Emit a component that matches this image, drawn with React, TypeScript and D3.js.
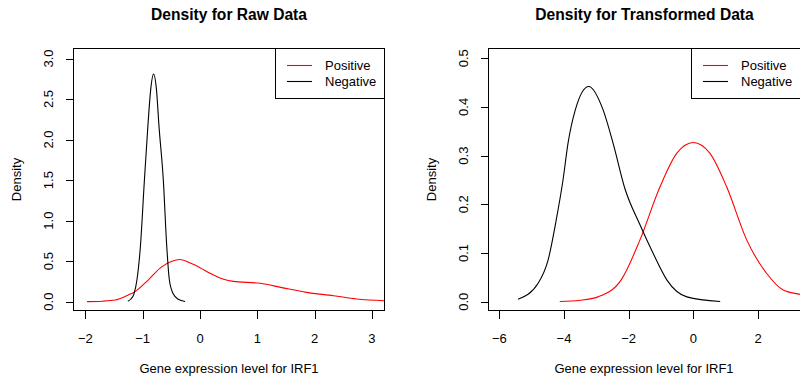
import { useEffect, useRef } from "react"
import * as d3 from "d3"

// density curves
const rawPosX = [-1.97, -1.7, -1.48, -1.25, -1.15, -0.9, -0.67, -0.49, -0.35, -0.15, 0.0, 0.175, 0.41, 0.58, 1.05, 1.45, 1.86, 2.33, 2.73, 3.3]
const rawPosY = [0.001, 0.006, 0.02, 0.083, 0.116, 0.27, 0.43, 0.5, 0.52, 0.47, 0.42, 0.35, 0.277, 0.25, 0.227, 0.17, 0.115, 0.074, 0.033, 0.01]
const rawNegX = [-1.26, -1.21, -1.15, -1.1, -1.04, -0.97, -0.91, -0.86, -0.81, -0.76, -0.715, -0.64, -0.58, -0.535, -0.47, -0.38, -0.26]
const rawNegY = [0.005, 0.03, 0.1, 0.27, 0.68, 1.5, 2.16, 2.62, 2.81, 2.62, 2.16, 1.5, 0.68, 0.27, 0.1, 0.03, 0.003]

const trPosX = [-4.13, -3.5, -2.95, -2.23, -1.65, -1.03, -0.51, 0, 0.51, 1.03, 1.65, 2.27, 2.78, 3.3, 3.9]
const trPosY = [0.0005, 0.003, 0.01, 0.045, 0.127, 0.236, 0.305, 0.327, 0.305, 0.236, 0.127, 0.058, 0.024, 0.015, 0.006]
const trNegX = [-5.42, -4.8, -4.49, -4.24, -4.03, -3.876, -3.65, -3.235, -2.79, -2.48, -2.12, -1.65, -1.24, -0.82, -0.2, 0.83]
const trNegY = [0.005, 0.038, 0.086, 0.168, 0.25, 0.325, 0.394, 0.442, 0.394, 0.325, 0.233, 0.158, 0.099, 0.045, 0.01, 0.0005]

const rawXTicks = [-2, -1, 0, 1, 2, 3]
const rawYTicks = [0, 0.5, 1, 1.5, 2, 2.5, 3]
const trXTicks = [-6, -4, -2, 0, 2]
const trYTicks = [0, 0.1, 0.2, 0.3, 0.4, 0.5]

const legendLabels = ["Positive", "Negative"]
const colours = ["#ff0000", "#000000"]
const FONT = "'Liberation Sans', Arial, Helvetica, sans-serif"

interface PanelSpec {
  id: string; title: string
  left: number; right: number; top: number; bottom: number
  xDomain: [number, number]; yDomain: [number, number]
  xTicks: number[]; yTicks: number[]
  series: { x: number[]; y: number[] }[]
}

const panels: PanelSpec[] = [
  { id: "raw", title: "Density for Raw Data", left: 73, right: 385, top: 48, bottom: 311,
    xDomain: [-2.216, 3.228], yDomain: [-0.115, 3.13], xTicks: rawXTicks, yTicks: rawYTicks,
    series: [{ x: rawPosX, y: rawPosY }, { x: rawNegX, y: rawNegY }] },
  { id: "tr", title: "Density for Transformed Data", left: 488, right: 801, top: 48, bottom: 311,
    xDomain: [-6.35, 3.33], yDomain: [-0.019, 0.521], xTicks: trXTicks, yTicks: trYTicks,
    series: [{ x: trPosX, y: trPosY }, { x: trNegX, y: trNegY }] },
]

const minus = (s: string) => s.replace("-", "\u2212")

export default function App() {
  const ref = useRef<SVGSVGElement>(null)
  useEffect(() => {
    if (!ref.current) return
    const svg = d3.select(ref.current)
    svg.selectAll("*").remove()
    svg.append("rect").attr("width", 800).attr("height", 376).attr("fill", "#fff")

    panels.forEach(p => {
      const x = d3.scaleLinear().domain(p.xDomain).range([p.left, p.right])
      const y = d3.scaleLinear().domain(p.yDomain).range([p.bottom, p.top])
      const g = svg.append("g").style("font-family", FONT)

      g.append("clipPath").attr("id", `clip-${p.id}`).append("rect")
        .attr("x", p.left).attr("y", p.top).attr("width", p.right - p.left).attr("height", p.bottom - p.top)

      const line = d3.line<[number, number]>().x(d => x(d[0])).y(d => y(d[1])).curve(d3.curveMonotoneX)
      p.series.forEach((s, i) => {
        g.append("path").attr("clip-path", `url(#clip-${p.id})`)
          .attr("d", line(s.x.map((v, j) => [v, s.y[j]] as [number, number])))
          .attr("fill", "none").attr("stroke", colours[i]).attr("stroke-width", 1.1)
      })

      // box
      g.append("rect").attr("x", p.left + 0.5).attr("y", p.top + 0.5)
        .attr("width", p.right - p.left - 1).attr("height", p.bottom - p.top - 1)
        .attr("fill", "none").attr("stroke", "#000").attr("stroke-width", 1)

      // x axis
      const xa = g.append("g")
      xa.append("line").attr("x1", x(p.xTicks[0])).attr("x2", x(p.xTicks[p.xTicks.length - 1]))
        .attr("y1", p.bottom - 0.5).attr("y2", p.bottom - 0.5).attr("stroke", "#000")
      p.xTicks.forEach(t => {
        const px = Math.round(x(t)) + 0.5
        xa.append("line").attr("x1", px).attr("x2", px).attr("y1", p.bottom).attr("y2", p.bottom + 8).attr("stroke", "#000")
        xa.append("text").attr("x", x(t)).attr("y", 342.5).attr("text-anchor", "middle")
          .style("font-size", "13px").text(minus(String(t)))
      })

      // y axis
      const ya = g.append("g")
      p.yTicks.forEach(t => {
        const py = Math.round(y(t)) + 0.5
        ya.append("line").attr("x1", p.left - 7).attr("x2", p.left).attr("y1", py).attr("y2", py).attr("stroke", "#000")
        ya.append("text").attr("transform", `translate(${p.left - 20.5},${y(t)}) rotate(-90)`)
          .attr("text-anchor", "middle").style("font-size", "13px").text(t.toFixed(1))
      })

      const cx = (p.left + Math.min(p.right, 800)) / 2
      const cxFull = (p.left + p.right) / 2
      g.append("text").attr("x", cxFull).attr("y", 20).attr("text-anchor", "middle")
        .style("font-size", "15.6px").style("font-weight", "bold").text(p.title)
      g.append("text").attr("x", cx).attr("y", 373).attr("text-anchor", "middle")
        .style("font-size", "13px").text("Gene expression level for IRF1")
      g.append("text").attr("transform", `translate(${p.left - 52.5},${(p.top + p.bottom) / 2}) rotate(-90)`)
        .attr("text-anchor", "middle").style("font-size", "13px").text("Density")

      // legend
      const lx = p.right - 110
      const lg = g.append("g")
      lg.append("rect").attr("x", lx + 0.5).attr("y", p.top + 0.5).attr("width", 109).attr("height", 50)
        .attr("fill", "#fff").attr("stroke", "#000")
      legendLabels.forEach((lab, i) => {
        const ly = p.top + 17.5 + i * 16
        lg.append("line").attr("x1", lx + 12).attr("x2", lx + 37).attr("y1", ly).attr("y2", ly)
          .attr("stroke", colours[i]).attr("stroke-width", 1.1)
        lg.append("text").attr("x", lx + 50).attr("y", ly + 4.7).style("font-size", "13px").text(lab)
      })
    })
  }, [])
  return <svg ref={ref} width={800} height={376} style={{ position: "absolute", left: 0, top: 0, display: "block" }} />
}
